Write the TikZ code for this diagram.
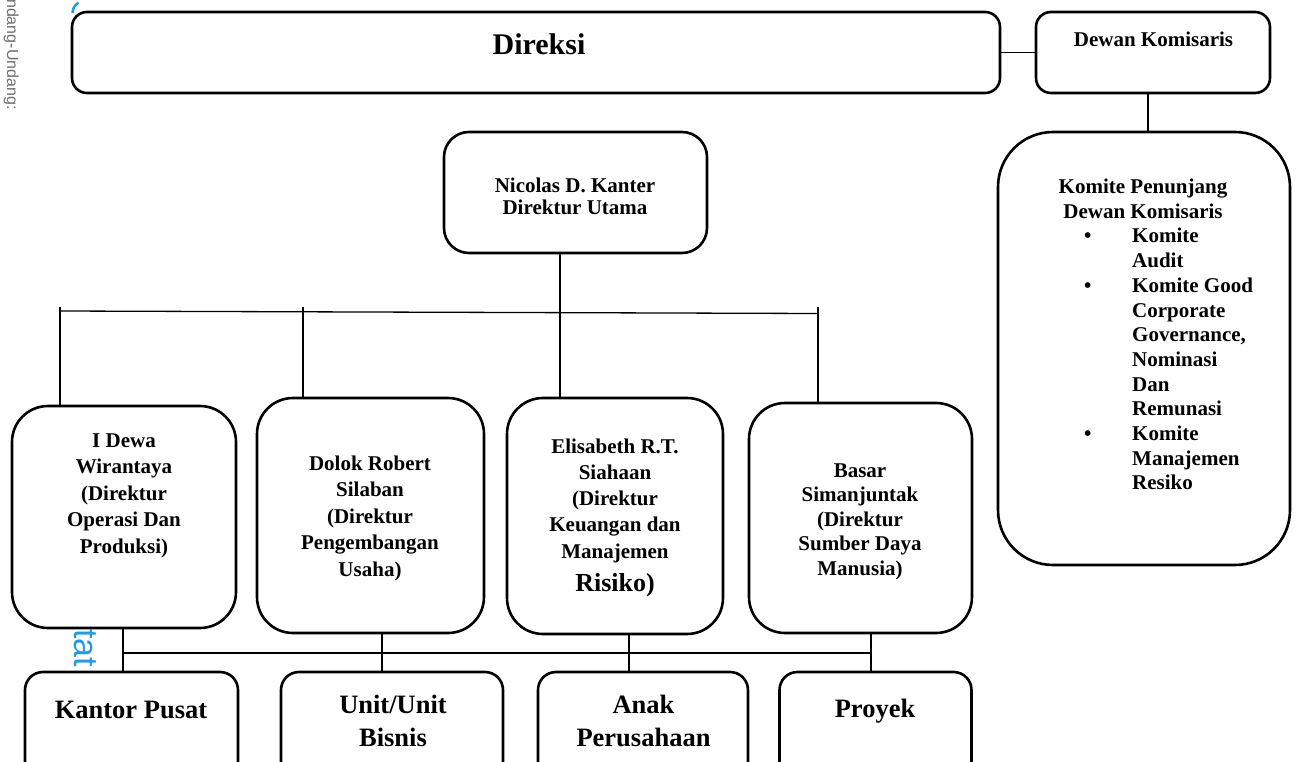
\documentclass[tikz,border=0pt]{standalone}
\usepackage{fontspec}
\setmainfont{Liberation Serif}
\newfontfamily\wmfont{Liberation Sans}
\definecolor{wmblue}{RGB}{35,155,225}
\definecolor{wmgray}{RGB}{110,110,110}
\newcommand\ctab[1]{\begin{tabular}[t]{@{}c@{}}#1\end{tabular}}
\newcommand\fsz[2]{\bfseries\fontsize{#1}{#2}\selectfont}
\tikzset{
  box/.style={draw=black, line width=2.6pt, fill=white, inner sep=0pt, rounded corners=#1},
  box/.default=15pt,
  link/.style={draw=black, line width=1.3pt},
  txt/.style={inner sep=0pt, anchor=base},
  wmark/.style={inner sep=0pt, rotate=-90, anchor=base west},
}
\begin{document}
\begin{tikzpicture}[x=1pt,y=-1pt]
\useasboundingbox (0,0) rectangle (1296,762);
\clip (0,0) rectangle (1296,762);
% watermark fragments
\node[wmark, text=wmgray, font=\wmfont\fontsize{16}{16}\selectfont] (wm1) at (7,-1) {ndang-Undang:};
\node[wmark, text=wmblue, font=\wmfont\fontsize{34}{34}\selectfont] (wm2) at (74,629) {tat};
\draw[wmblue, line width=2.5pt] (72.5,13) arc[start angle=180, end angle=240, radius=12];

% boxes
\node[box=15pt, minimum width=928, minimum height=81] (direksi) at (536,52.5) {};
\node[box=15pt, minimum width=234, minimum height=81] (dewan) at (1153,52.5) {};
\node[box=25pt, minimum width=263, minimum height=121] (nicolas) at (575.5,192.5) {};
\node[box=55pt, minimum width=292, minimum height=433] (komite) at (1144,348.5) {};
\node[box=36pt, minimum width=224, minimum height=222] (idewa) at (124,517) {};
\node[box=36pt, minimum width=227, minimum height=235] (dolok) at (370.5,515.5) {};
\node[box=36pt, minimum width=216, minimum height=236] (elis) at (615,516) {};
\node[box=36pt, minimum width=223, minimum height=230] (basar) at (860.5,518) {};
\node[box=18pt, minimum width=213, minimum height=120] (kantor) at (131.5,732) {};
\node[box=18pt, minimum width=222, minimum height=120] (unit) at (392,732) {};
\node[box=18pt, minimum width=210, minimum height=120] (anak) at (643,732) {};
\node[box=18pt, minimum width=192, minimum height=120] (proyek) at (875.5,732) {};

% connectors
\draw[link] (direksi.east) -- (dewan.west);
\coordinate (cD) at (1148,0);
\draw[link] (dewan.south -| cD) -- (cD |- komite.north);
\coordinate (cN) at (560,0);
\draw[link] (nicolas.south -| cN) -- (cN |- elis.north);
\coordinate (barL) at (60,311);
\coordinate (barR) at (818,313.5);
\draw[link] (barL) -- (barR);
\coordinate (v1) at (60,307);
\coordinate (v2) at (303,307);
\coordinate (v4) at (818,307);
\draw[link] (v1) -- (v1 |- idewa.north);
\draw[link] (v2) -- (v2 |- dolok.north);
\draw[link] (v4) -- (v4 |- basar.north);
\coordinate (bL) at (123,653);
\coordinate (bR) at (871,653);
\draw[link] (bL) -- (bR);
\coordinate (u1) at (123,0);
\coordinate (u2) at (382,0);
\coordinate (u3) at (629,0);
\coordinate (u4) at (871,0);
\draw[link] (u1 |- idewa.south) -- (u1 |- kantor.north);
\draw[link] (u2 |- dolok.south) -- (u2 |- unit.north);
\draw[link] (u3 |- elis.south) -- (u3 |- anak.north);
\draw[link] (u4 |- basar.south) -- (u4 |- proyek.north);

% texts
\node[txt, font=\fsz{30}{36}] (tDireksi) at (539,55) {Direksi};
\node[txt, font=\fsz{21}{24}] (tDewan) at (1153.5,47) {Dewan Komisaris};
\node[txt, font=\fsz{21}{22}] (tNic) at (575,193) {\ctab{Nicolas D. Kanter\\Direktur Utama}};
\node[txt, font=\fsz{21}{26.5}] (tIdewa) at (124,447) {\ctab{I Dewa\\Wirantaya\\(Direktur\\Operasi Dan\\Produksi)}};
\node[txt, font=\fsz{21}{26.5}] (tDolok) at (370,470) {\ctab{Dolok Robert\\Silaban\\(Direktur\\Pengembangan\\Usaha)}};
\node[txt, font=\fsz{21}{26.3}] (tElis) at (615,453) {\ctab{Elisabeth R.T.\\Siahaan\\(Direktur\\Keuangan dan\\Manajemen\\[6.5pt]{\fontsize{26}{30}\selectfont Risiko)}}};
\node[txt, font=\fsz{21}{24.6}] (tBasar) at (860,477) {\ctab{Basar\\Simanjuntak\\(Direktur\\Sumber Daya\\Manusia)}};
\node[txt, font=\fsz{21}{24.7}] (tKomT) at (1143,194) {\ctab{Komite Penunjang\\Dewan Komisaris}};
\node[txt, anchor=base west, font=\fsz{21}{24.7}] (tKomL) at (1084,243) {\begin{tabular}[t]{@{}l@{}l@{}}
\makebox[48pt][l]{\textbullet} & Komite\\
 & Audit\\
\makebox[48pt][l]{\textbullet} & Komite Good\\
 & Corporate\\
 & Governance,\\
 & Nominasi\\
 & Dan\\
 & Remunasi\\
\makebox[48pt][l]{\textbullet} & Komite\\
 & Manajemen\\
 & Resiko
\end{tabular}};
\node[txt, font=\fsz{26.5}{33}] (tKantor) at (131,718) {Kantor Pusat};
\node[txt, font=\fsz{26.5}{33}] (tUnit) at (393,713) {\ctab{Unit/Unit\\Bisnis}};
\node[txt, font=\fsz{26.5}{33}] (tAnak) at (643.5,713) {\ctab{Anak\\Perusahaan}};
\node[txt, font=\fsz{26.5}{33}] (tProyek) at (875,717) {Proyek};
\end{tikzpicture}
\end{document}
